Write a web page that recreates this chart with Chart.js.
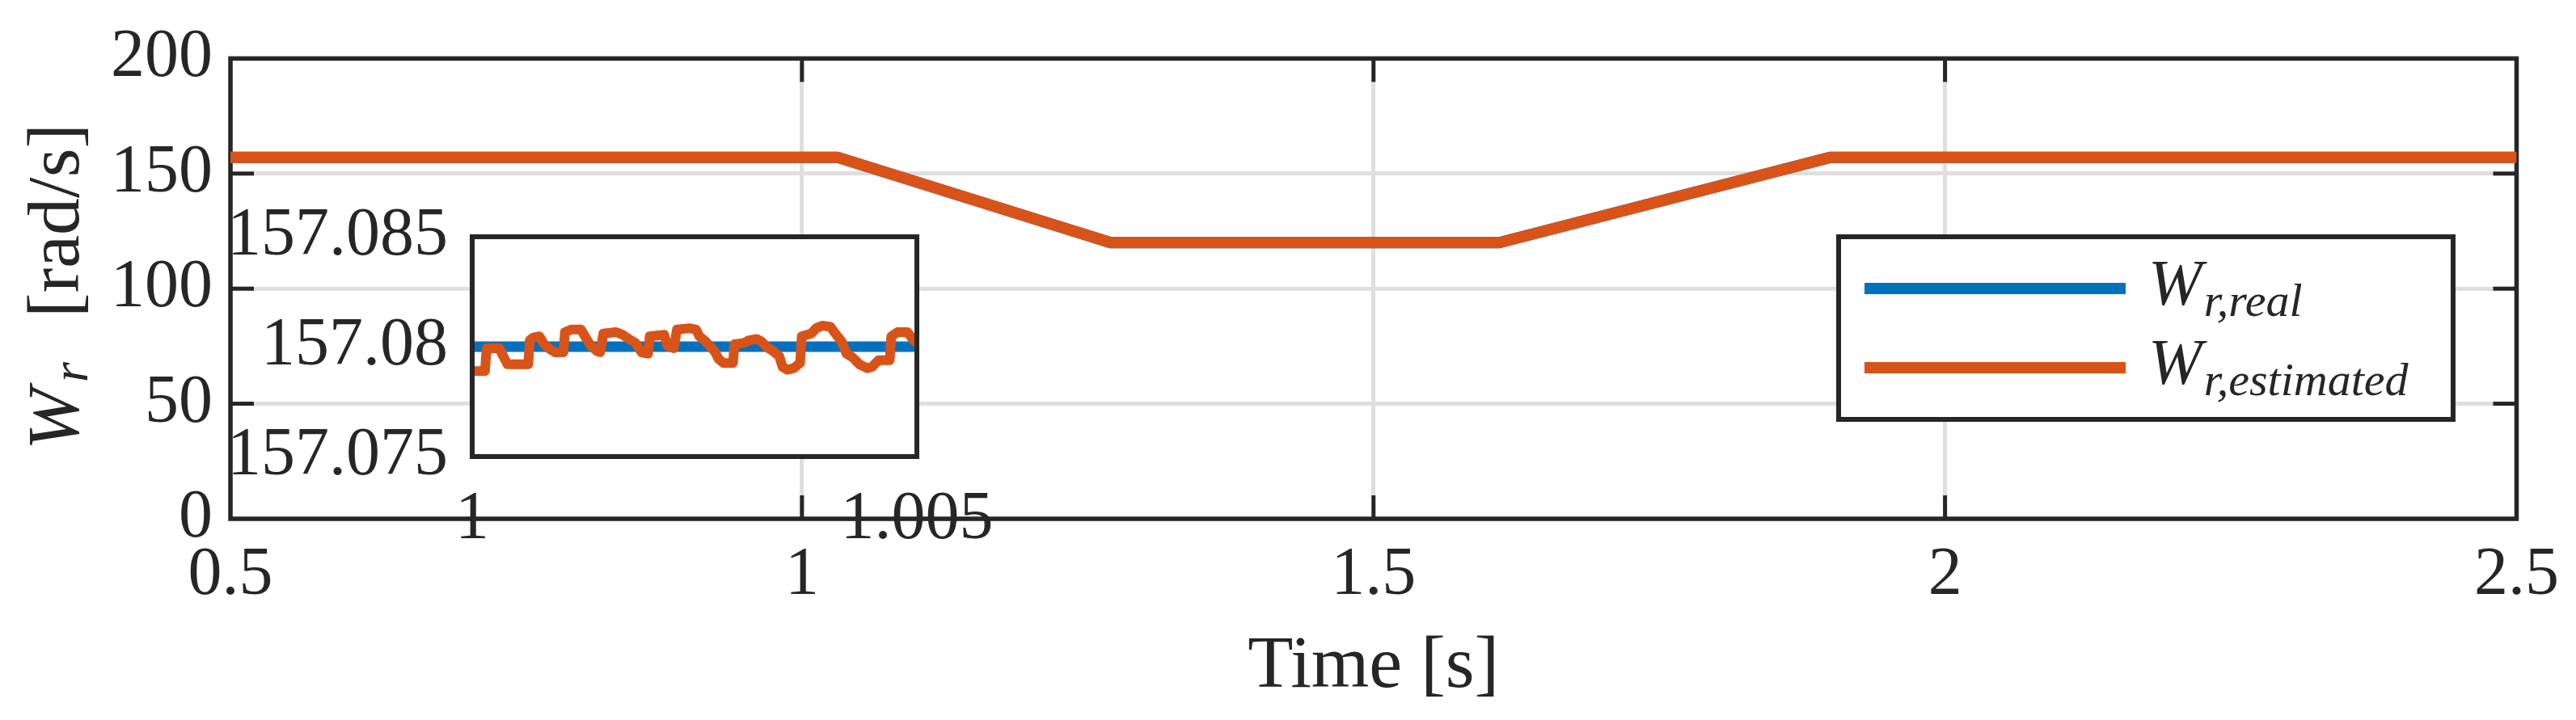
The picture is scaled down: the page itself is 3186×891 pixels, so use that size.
<!DOCTYPE html>
<html>
<head>
<meta charset="utf-8">
<title>Rotor speed</title>
<script src="https://cdn.jsdelivr.net/npm/chart.js@4.4.0/dist/chart.umd.min.js"></script>
<style>
  html, body { margin: 0; padding: 0; background: #ffffff; }
  #wrap { position: relative; width: 3186px; height: 891px; }
  #wrap canvas { position: absolute; left: 0; top: 0; }
</style>
</head>
<body>
<div id="wrap">
  <canvas id="mainChart" width="3186" height="891"></canvas>
  <canvas id="insetChart" width="3186" height="891"></canvas>
</div>
<script>
// Data
const xTicks = [0.5, 1, 1.5, 2, 2.5];
const yTicks = [0, 50, 100, 150, 200];

const timeReal = [0.5, 1.031, 1.27, 1.61, 1.9, 2.5];
const speedReal = [157.08, 157.08, 120, 120, 157.08, 157.08];
const timeEst = [0.5, 1.031, 1.27, 1.61, 1.9, 2.5];
const speedEst = [157.08, 157.08, 120, 120, 157.08, 157.08];

// Zoomed inset
const insetXTicks = [1, 1.005];
const insetXLabels = ['1', '1.005'];
const insetYTicks = [157.075, 157.08, 157.085];
const insetYLabels = ['157.075', '157.08', '157.085'];

const insetTimeReal = [1, 1.005];
const insetSpeedReal = [157.08, 157.08];

const insetTimeEst = [
    1.0, 1.000144, 1.000162, 1.000306, 1.000342, 1.000396, 1.00063, 1.000647,
    1.000683, 1.000755, 1.000809, 1.000881, 1.000935, 1.001025, 1.001043, 1.001115,
    1.001223, 1.001277, 1.001331, 1.001403, 1.001439, 1.001475, 1.001619, 1.001691,
    1.001763, 1.001835, 1.001906, 1.001978, 1.001996, 1.002158, 1.002194, 1.002266,
    1.002302, 1.002446, 1.002518, 1.002554, 1.002626, 1.00268, 1.002734, 1.00277,
    1.002824, 1.002932, 1.00295, 1.003058, 1.003112, 1.003201, 1.003255, 1.003309,
    1.003381, 1.003453, 1.003489, 1.003543, 1.003615, 1.003687, 1.003705, 1.003813,
    1.003867, 1.003939, 1.004029, 1.004083, 1.004155, 1.004209, 1.004281, 1.004353,
    1.004442, 1.004496, 1.004568, 1.004694, 1.004712, 1.004784, 1.004892, 1.004964,
    1.005036
];
const insetSpeedEst = [
    157.07889, 157.07889, 157.07993, 157.07993, 157.07962, 157.0792, 157.0792, 157.08029,
    157.08041, 157.08047, 157.08011, 157.07987, 157.07974, 157.07974, 157.08066, 157.08078,
    157.08078, 157.08041, 157.08005, 157.0798, 157.07974, 157.0806, 157.08066, 157.08054,
    157.08035, 157.08017, 157.07974, 157.07968, 157.08047, 157.08054, 157.08005, 157.07993,
    157.08078, 157.08084, 157.08078, 157.08047, 157.08023, 157.07999, 157.07974, 157.07944,
    157.07926, 157.07926, 157.08011, 157.08017, 157.08029, 157.08035, 157.08023, 157.07999,
    157.0798, 157.07956, 157.07908, 157.07895, 157.07902, 157.07926, 157.08047, 157.0806,
    157.08084, 157.08096, 157.0809, 157.0806, 157.08023, 157.07968, 157.0795, 157.0792,
    157.07902, 157.07908, 157.07938, 157.07938, 157.08047, 157.08066, 157.08066, 157.08029,
    157.08005
];

// Styles
const INK = '#262626';
const GRID = '#dfdfdf';
const BLUE = '#0072BD';
const ORANGE = '#D95319';
const SERIF = "'Liberation Serif', 'Times New Roman', serif";
const tickFont = { family: SERIF, size: 84 };

function toXY(xs, ys) {
    return xs.map((x, i) => ({ x: x, y: ys[i] }));
}

function strokeLine(ctx, x1, y1, x2, y2) {
    ctx.beginPath();
    ctx.moveTo(x1, y1);
    ctx.lineTo(x2, y2);
    ctx.stroke();
}

// Frame, inward ticks and titles of the main axes
const mainAxesPlugin = {
    id: 'mainAxes',
    beforeDatasetsDraw(chart) {
        const ctx = chart.ctx;
        const { left, right, top, bottom } = chart.chartArea;
        const xs = chart.scales.x;
        const ys = chart.scales.y;
        ctx.save();
        ctx.strokeStyle = INK;
        ctx.lineWidth = 5;
        xTicks.forEach(v => {
            if (v <= xs.min || v >= xs.max) return;
            const px = xs.getPixelForValue(v);
            strokeLine(ctx, px, bottom, px, bottom - 29);
            strokeLine(ctx, px, top, px, top + 29);
        });
        yTicks.forEach(v => {
            if (v <= ys.min || v >= ys.max) return;
            const py = ys.getPixelForValue(v);
            strokeLine(ctx, left, py, left + 29, py);
            strokeLine(ctx, right, py, right - 29, py);
        });
        ctx.lineWidth = 5.5;
        ctx.strokeRect(left, top, right - left, bottom - top);
        ctx.restore();
    },
    afterDraw(chart) {
        const ctx = chart.ctx;
        ctx.save();
        ctx.fillStyle = INK;

        // x title
        ctx.font = '92px ' + SERIF;
        ctx.textAlign = 'center';
        ctx.textBaseline = 'alphabetic';
        ctx.fillText('Time [s]', (chart.chartArea.left + chart.chartArea.right) / 2, 850);

        // y title: W_r [rad/s], rotated
        ctx.translate(97, 557);
        ctx.rotate(-Math.PI / 2);
        ctx.textAlign = 'left';
        ctx.font = 'italic 92px ' + SERIF;
        ctx.fillText('W', 0, 0);
        ctx.font = 'italic 64px ' + SERIF;
        ctx.fillText('r', 84, 11);
        ctx.font = '92px ' + SERIF;
        ctx.fillText('[rad/s]', 164, 0);
        ctx.restore();

        // legend
        ctx.save();
        ctx.fillStyle = '#ffffff';
        ctx.fillRect(2274, 293, 760, 226);
        ctx.strokeStyle = INK;
        ctx.lineWidth = 6;
        ctx.strokeRect(2274, 293, 760, 226);
        const entries = [
            { color: BLUE, sub: 'r,real', y: 357 },
            { color: ORANGE, sub: 'r,estimated', y: 455 }
        ];
        entries.forEach(e => {
            ctx.strokeStyle = e.color;
            ctx.lineWidth = 14;
            strokeLine(ctx, 2306, e.y, 2629, e.y);
            ctx.fillStyle = INK;
            ctx.textAlign = 'left';
            ctx.textBaseline = 'alphabetic';
            ctx.font = 'italic 80px ' + SERIF;
            ctx.fillText('W', 2657, e.y + 20);
            const w = ctx.measureText('W').width;
            ctx.font = 'italic 58px ' + SERIF;
            ctx.fillText(e.sub, 2657 + w + 2, e.y + 34);
        });
        ctx.restore();
    }
};

const insetBoxPlugin = {
    id: 'insetBox',
    beforeDraw(chart) {
        const { left, right, top, bottom } = chart.chartArea;
        const ctx = chart.ctx;
        ctx.save();
        ctx.fillStyle = '#ffffff';
        ctx.fillRect(left, top, right - left, bottom - top);
        ctx.restore();
    },
    afterDraw(chart) {
        const { left, right, top, bottom } = chart.chartArea;
        const ctx = chart.ctx;
        ctx.save();
        ctx.strokeStyle = INK;
        ctx.lineWidth = 6;
        ctx.strokeRect(left, top, right - left, bottom - top);
        ctx.restore();
    }
};

// Main chart (order 1 = drawn underneath)
new Chart(document.getElementById('mainChart'), {
    type: 'line',
    data: {
        datasets: [
            {
                label: 'W_r,real',
                data: toXY(timeReal, speedReal),
                borderColor: BLUE,
                borderWidth: 14,
                pointRadius: 0,
                borderJoinStyle: 'round',
                order: 1
            },
            {
                label: 'W_r,estimated',
                data: toXY(timeEst, speedEst),
                borderColor: ORANGE,
                borderWidth: 14,
                pointRadius: 0,
                borderJoinStyle: 'round',
                order: 0
            }
        ]
    },
    options: {
        responsive: false,
        animation: false,
        events: [],
        layout: { padding: { left: 0, right: 69, top: 50, bottom: 0 } },
        plugins: {
            legend: { display: false },
            tooltip: { enabled: false }
        },
        scales: {
            x: {
                type: 'linear',
                min: 0.5,
                max: 2.5,
                afterBuildTicks: s => { s.ticks = xTicks.map(v => ({ value: v })); },
                afterFit: s => { s.height = 249; },
                border: { display: false },
                grid: { color: GRID, lineWidth: 5, drawTicks: false },
                ticks: {
                    font: tickFont,
                    color: INK,
                    padding: 21,
                    maxRotation: 0,
                    autoSkip: false,
                    callback: v => String(v)
                }
            },
            y: {
                type: 'linear',
                min: 0,
                max: 200,
                afterBuildTicks: s => { s.ticks = yTicks.map(v => ({ value: v })); },
                afterFit: s => { s.width = 285; },
                border: { display: false },
                grid: { color: GRID, lineWidth: 5, drawTicks: false },
                ticks: {
                    font: tickFont,
                    color: INK,
                    padding: 22,
                    autoSkip: false,
                    callback: v => String(v)
                }
            }
        }
    },
    plugins: [mainAxesPlugin]
});

// Inset chart
new Chart(document.getElementById('insetChart'), {
    type: 'line',
    data: {
        datasets: [
            {
                label: 'real',
                data: toXY(insetTimeReal, insetSpeedReal),
                borderColor: BLUE,
                borderWidth: 13,
                pointRadius: 0,
                order: 1
            },
            {
                label: 'estimated',
                data: toXY(insetTimeEst, insetSpeedEst),
                borderColor: ORANGE,
                borderWidth: 12,
                pointRadius: 0,
                borderJoinStyle: 'round',
                borderCapStyle: 'round',
                order: 0
            }
        ]
    },
    options: {
        responsive: false,
        animation: false,
        events: [],
        layout: { padding: { left: 0, right: 2052, top: 293, bottom: 0 } },
        plugins: {
            legend: { display: false },
            tooltip: { enabled: false }
        },
        scales: {
            x: {
                type: 'linear',
                min: 1,
                max: 1.005,
                afterBuildTicks: s => { s.ticks = insetXTicks.map(v => ({ value: v })); },
                afterFit: s => { s.height = 326; },
                border: { display: false },
                grid: { display: false },
                ticks: {
                    font: tickFont,
                    color: INK,
                    padding: 21,
                    maxRotation: 0,
                    autoSkip: false,
                    callback: (v, i) => insetXLabels[i]
                }
            },
            y: {
                type: 'linear',
                min: 157.075,
                max: 157.085,
                afterBuildTicks: s => { s.ticks = insetYTicks.map(v => ({ value: v })); },
                afterFit: s => { s.width = 584; },
                border: { display: false },
                grid: { display: false },
                ticks: {
                    font: tickFont,
                    color: INK,
                    padding: 22,
                    autoSkip: false,
                    callback: (v, i) => insetYLabels[i]
                }
            }
        }
    },
    plugins: [insetBoxPlugin]
});
</script>
</body>
</html>
